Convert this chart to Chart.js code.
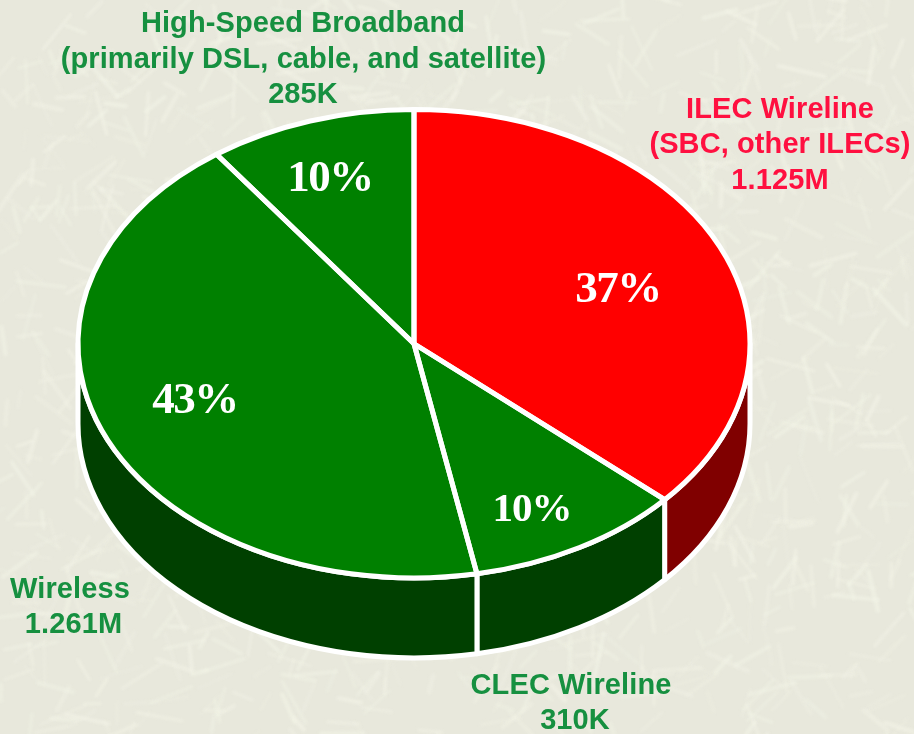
<!DOCTYPE html>
<html>
<head>
<meta charset="utf-8">
<title>Access lines</title>
<script src="https://cdn.jsdelivr.net/npm/chart.js@4/dist/chart.umd.min.js"></script>
<style>
  html, body { margin: 0; padding: 0; background: #e8e8dc; }
  canvas { display: block; }
</style>
</head>
<body>
<canvas id="myChart" width="914" height="734"></canvas>
<script>
// values, clockwise from 12 o'clock
var categories = ['ILEC Wireline', 'CLEC Wireline', 'Wireless', 'High-Speed Broadband'];
var shares = [36.6, 10.4, 43, 10];
var shareLabels = ['37%', '10%', '43%', '10%'];
var topColors = ['#ff0000', '#008000', '#008000', '#008000'];
var wallColors = ['#800000', '#004000', '#004000', '#004000'];

var calloutLines = [
  ['ILEC Wireline', '(SBC, other ILECs)', '1.125M'],
  ['CLEC Wireline', '310K'],
  ['Wireless', '1.261M'],
  ['High-Speed Broadband', '(primarily DSL, cable, and satellite)', '285K']
];

// layout
var squash = 0.697;
var depth = 80;
var edgeWidth = 5;
var calloutPos = [
  { x: [780, 780, 780], y: 117.5, color: '#ff1040' },
  { x: [571, 575], y: 693.5, color: '#169040' },
  { x: [70, 73.5], y: 597.5, color: '#169040' },
  { x: [303, 303.5, 303], y: 32, color: '#169040' }
];
var calloutStep = 35.5;
var sharePos = [
  { x: 618, y: 302, size: 45, track: -1.5 },
  { x: 532, y: 521, size: 41, track: -1 },
  { x: 195, y: 413, size: 45, track: -1.5 },
  { x: 330, y: 191, size: 45, track: -1.5 }
];

// paper texture behind the chart
function drawPaper(ctx, w, h) {
  var seed = 4711;
  function rnd() {
    seed = (seed * 16807) % 2147483647;
    return seed / 2147483647;
  }
  ctx.save();
  ctx.fillStyle = '#e8e8dc';
  ctx.fillRect(0, 0, w, h);
  ctx.filter = 'blur(1.5px)';
  ctx.lineCap = 'round';
  for (var i = 0; i < 1300; i++) {
    var x = rnd() * w, y = rnd() * h, a = rnd() * Math.PI * 2, len = 15 + rnd() * 35;
    ctx.strokeStyle = 'rgba(244,245,232,' + (0.15 + rnd() * 0.45) + ')';
    ctx.lineWidth = 2.5 + rnd() * 2;
    ctx.beginPath();
    ctx.moveTo(x, y);
    ctx.lineTo(x + Math.cos(a) * len, y + Math.sin(a) * len);
    ctx.stroke();
  }
  ctx.restore();
}

// side wall of the disc, only the part of each slice that faces down
function drawWalls(chart) {
  var ctx = chart.ctx;
  var arcs = chart.getDatasetMeta(0).data;
  ctx.save();
  ctx.lineWidth = edgeWidth;
  ctx.strokeStyle = '#ffffff';
  ctx.lineJoin = 'round';
  arcs.forEach(function (arc, i) {
    var from = Math.max(arc.startAngle, 0);
    var to = Math.min(arc.endAngle, Math.PI);
    if (to <= from) return;
    var ry = arc.outerRadius * squash;
    ctx.beginPath();
    ctx.ellipse(arc.x, arc.y, arc.outerRadius, ry, 0, from, to);
    ctx.ellipse(arc.x, arc.y + depth, arc.outerRadius, ry, 0, to, from, true);
    ctx.closePath();
    ctx.fillStyle = wallColors[i];
    ctx.fill();
    ctx.stroke();
  });
  ctx.restore();
}

function squashAround(ctx, arc) {
  ctx.translate(arc.x, arc.y);
  ctx.scale(1, squash);
  ctx.translate(-arc.x, -arc.y);
}

// white slice edges, stroked outside the squash so they stay even
function drawEdges(chart) {
  var ctx = chart.ctx;
  ctx.save();
  ctx.lineWidth = edgeWidth;
  ctx.strokeStyle = '#ffffff';
  ctx.lineJoin = 'round';
  chart.getDatasetMeta(0).data.forEach(function (arc) {
    ctx.save();
    squashAround(ctx, arc);
    ctx.beginPath();
    ctx.moveTo(arc.x, arc.y);
    ctx.arc(arc.x, arc.y, arc.outerRadius, arc.startAngle, arc.endAngle);
    ctx.closePath();
    ctx.restore();
    ctx.stroke();
  });
  ctx.restore();
}

var disc3d = {
  id: 'disc3d',
  beforeDraw: function (chart) {
    drawPaper(chart.ctx, chart.width, chart.height);
  },
  beforeDatasetsDraw: function (chart) {
    drawWalls(chart);
    chart.ctx.save();
    squashAround(chart.ctx, chart.getDatasetMeta(0).data[0]);
  },
  afterDatasetsDraw: function (chart) {
    chart.ctx.restore();
    drawEdges(chart);
  },
  afterDraw: function (chart) {
    var ctx = chart.ctx;
    ctx.save();
    ctx.textAlign = 'center';
    ctx.textBaseline = 'alphabetic';
    shareLabels.forEach(function (txt, i) {
      ctx.font = 'bold ' + sharePos[i].size + 'px "Liberation Serif"';
      ctx.letterSpacing = sharePos[i].track + 'px';
      ctx.fillStyle = '#ffffff';
      ctx.fillText(txt, sharePos[i].x, sharePos[i].y);
    });
    ctx.letterSpacing = '0.1px';
    ctx.font = 'bold 29px "Liberation Sans"';
    calloutLines.forEach(function (lines, i) {
      ctx.fillStyle = calloutPos[i].color;
      lines.forEach(function (txt, n) {
        ctx.fillText(txt, calloutPos[i].x[n], calloutPos[i].y + n * calloutStep);
      });
    });
    ctx.restore();
  }
};

var ctx = document.getElementById('myChart').getContext('2d');

var myPie = new Chart(ctx, {
  type: 'pie',
  plugins: [disc3d],
  data: {
    labels: categories,
    datasets: [{
      data: shares,
      backgroundColor: topColors,
      borderWidth: 0,
      clip: false
    }]
  },
  options: {
    responsive: false,
    animation: false,
    radius: 336,
    layout: { padding: { left: 0, right: 86, top: 0, bottom: 46.5 } },
    plugins: {
      legend: { display: false },
      tooltip: { enabled: false }
    }
  }
});
</script>
</body>
</html>
